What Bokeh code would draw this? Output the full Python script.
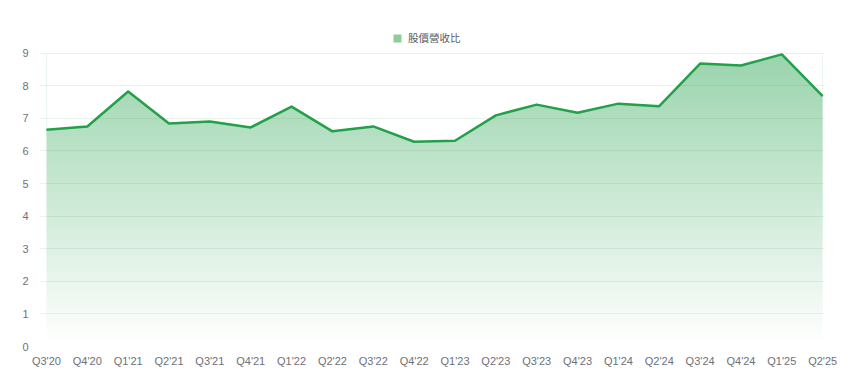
import numpy as np
from bokeh.plotting import figure
from bokeh.models import FixedTicker, Legend, LegendItem, Range1d
from bokeh.embed import file_html
from bokeh.resources import INLINE

quarters = ["Q3'20", "Q4'20", "Q1'21", "Q2'21", "Q3'21", "Q4'21", "Q1'22", "Q2'22",
            "Q3'22", "Q4'22", "Q1'23", "Q2'23", "Q3'23", "Q4'23", "Q1'24", "Q2'24",
            "Q3'24", "Q4'24", "Q1'25", "Q2'25"]
ps_ratio = [6.65, 6.75, 7.82, 6.84, 6.90, 6.72, 7.36, 6.60, 6.75, 6.28,
            6.31, 7.09, 7.42, 7.17, 7.45, 7.37, 8.68, 8.62, 8.96, 7.68]
y_ticks = [0, 1, 2, 3, 4, 5, 6, 7, 8, 9]
series_name = "股價營收比"

LINE = "#22a04a"
idx = list(range(len(quarters)))

p = figure(width=860, height=390, output_backend="svg", toolbar_location=None,
           x_range=Range1d(-0.17, len(quarters) - 1 + 0.02), y_range=Range1d(0, 10),
           min_border_left=39, min_border_right=37, min_border_top=20, min_border_bottom=44)
p.outline_line_color = None
p.background_fill_color = "white"
p.border_fill_color = "white"

# gradient fill: vertical image from 0 up to the max value, masked above the line
ymax = max(ps_ratio)
N = 256
alpha = np.linspace(0.0, 0.46, N)
rgba = np.zeros((N, 1, 4), dtype=np.uint8)
rgba[:, 0, 0] = 34
rgba[:, 0, 1] = 160
rgba[:, 0, 2] = 74
rgba[:, 0, 3] = (alpha * 255).astype(np.uint8)
img = rgba.view(dtype=np.uint32).reshape((N, 1))
p.image_rgba(image=[img], x=idx[0], y=0, dw=idx[-1] - idx[0], dh=ymax)
p.varea(x=idx, y1=ps_ratio, y2=[ymax + 0.05] * len(idx), fill_color="white", fill_alpha=1.0)

p.line(idx, ps_ratio, line_color=LINE, line_width=2.5, line_join="round")

# legend swatch (a hidden placeholder, only its legend glyph shows)
nan = float("nan")
sw = p.quad(left=[nan], right=[nan], top=[nan], bottom=[nan],
            fill_color="#8fcc99", line_color=None)
legend = Legend(items=[LegendItem(label=series_name, renderers=[sw])],
                location=(353, 301), orientation="horizontal",
                border_line_color=None, background_fill_alpha=0,
                label_text_font="Noto Sans CJK TC", label_text_font_size="10.5px",
                label_text_color="#5a5a5a", glyph_width=10, glyph_height=10,
                label_standoff=6, padding=0, margin=0, label_height=12)
p.add_layout(legend)

# axes
p.xaxis.ticker = FixedTicker(ticks=idx)
p.xaxis.major_label_overrides = {i: q for i, q in enumerate(quarters)}
p.yaxis.ticker = FixedTicker(ticks=y_ticks)
for ax in (p.xaxis, p.yaxis):
    ax.axis_line_color = None
    ax.major_tick_line_color = None
    ax.minor_tick_line_color = None
    ax.major_tick_out = 0
    ax.major_tick_in = 0
    ax.major_label_text_font = "Liberation Sans"
    ax.major_label_text_font_size = "11px"
    ax.major_label_text_color = "#6e7079"
p.xaxis.major_label_standoff = 8
p.yaxis.major_label_standoff = 11

p.xgrid.grid_line_color = None
p.ygrid.ticker = FixedTicker(ticks=y_ticks)
p.ygrid.grid_line_color = "#2e7d40"
p.ygrid.grid_line_alpha = 0.1
p.ygrid.level = "overlay"

open("out.html", "w").write(file_html(p, INLINE))
